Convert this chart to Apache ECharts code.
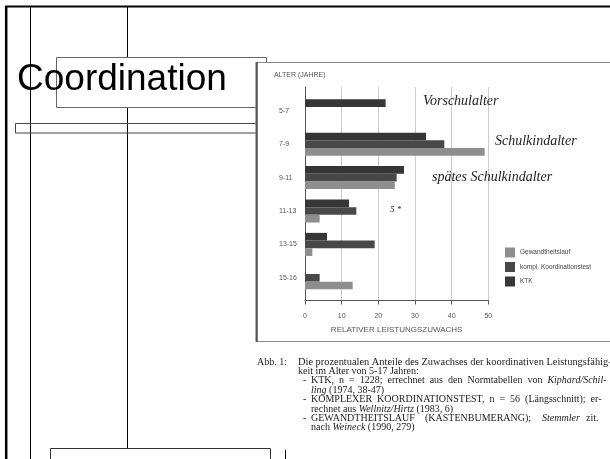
<!DOCTYPE html>
<html>
<head>
<meta charset="utf-8">
<script src="https://cdn.jsdelivr.net/npm/echarts@6/dist/echarts.min.js"></script>
<style>html,body{margin:0;padding:0;background:#fff;}#main{width:610px;height:459px;}</style>
</head>
<body>
<div id="main"></div>
<script>
// ---- data ----
var ageGroups = ['5-7', '7-9', '9-11', '11-13', '13-15', '15-16'];
var ktk = [22, 33, 27, 12, 6, null];
var komplKoord = [null, 38, 25, 14, 19, 4];
var gewandtheitslauf = [null, 49, 24.5, 4, 2, 13];
var xTicks = [0, 10, 20, 30, 40, 50];
var seriesNames = ['KTK', 'kompl. Koordinationstest', 'Gewandtheitslauf'];
var legendOrder = ['Gewandtheitslauf', 'kompl. Koordinationstest', 'KTK'];

var chart = echarts.init(document.getElementById('main'), null, {renderer: 'canvas'});
var serif = '"Liberation Serif", "DejaVu Serif", serif';
var sans = '"Liberation Sans", Arial, sans-serif';

var captionLines = [
  {x: 257, y: 362, t: 'Abb. 1:'},
  {x: 298, y: 362, t: 'Die prozentualen Anteile des Zuwachses der koordinativen Leistungsfähig-', s: 10.4},
  {x: 298, y: 371.4, t: 'keit im Alter von 5-17 Jahren:'},
  {x: 303, y: 380.8, t: '-'},
  {x: 311, y: 380.8, t: 'KTK,  n  =  1228;  errechnet  aus  den  Normtabellen  von  {i|Kiphard/Schil-}'},
  {x: 311, y: 390.2, t: '{i|ling} (1974, 38-47)'},
  {x: 303, y: 399.6, t: '-'},
  {x: 311, y: 399.6, t: 'KOMPLEXER  KOORDINATIONSTEST,  n  =  56  (Längsschnitt);  er-'},
  {x: 311, y: 409, t: 'rechnet aus {i|Wellnitz/Hirtz} (1983, 6)'},
  {x: 303, y: 418.4, t: '-'},
  {x: 311, y: 418.4, t: 'GEWANDTHEITSLAUF'},
  {x: 425, y: 418.4, t: '(KASTENBUMERANG);'},
  {x: 542, y: 418.4, t: '{i|Stemmler}'},
  {x: 586, y: 418.4, t: 'zit.'},
  {x: 311, y: 427.8, t: 'nach {i|Weineck} (1990, 279)'}
];

var graphics = [
  // slide frame lines
  {type: 'line', z: -10, shape: {x1: 5, y1: 6.5, x2: 610, y2: 6.5}, style: {stroke: '#000', lineWidth: 2}},
  {type: 'line', z: -10, shape: {x1: 6.2, y1: 6, x2: 6.2, y2: 459}, style: {stroke: '#000', lineWidth: 2.5}},
  {type: 'line', z: -10, shape: {x1: 30.5, y1: 7, x2: 30.5, y2: 459}, style: {stroke: '#000', lineWidth: 1}},
  {type: 'line', z: -10, shape: {x1: 127.5, y1: 7, x2: 127.5, y2: 448}, style: {stroke: '#000', lineWidth: 1}},
  {type: 'rect', z: -9, shape: {x: 56.5, y: 57.5, width: 210, height: 50}, style: {fill: '#fff', stroke: '#666', lineWidth: 1}},
  {type: 'rect', z: -9, shape: {x: 15.5, y: 123.5, width: 250, height: 9.5}, style: {fill: 'none', stroke: '#444', lineWidth: 1}},
  {type: 'rect', z: -9, shape: {x: 50.5, y: 448.5, width: 220, height: 30}, style: {fill: 'none', stroke: '#333', lineWidth: 1}},
  {type: 'line', z: -10, shape: {x1: 285.5, y1: 450, x2: 285.5, y2: 459}, style: {stroke: '#000', lineWidth: 1}},
  {type: 'text', z: -8, style: {x: 17, y: 79.5, text: 'Coordination', font: '37px ' + sans, fill: '#000', verticalAlign: 'middle'}},
  // chart panel
  {type: 'rect', z: -5, shape: {x: 256, y: 62.5, width: 360, height: 279}, style: {fill: '#fff', stroke: '#888', lineWidth: 1}},
  {type: 'line', z: -4, shape: {x1: 256.8, y1: 62, x2: 256.8, y2: 342}, style: {stroke: '#555', lineWidth: 2}},
  // handwritten notes
  {type: 'text', z: 20, style: {x: 423, y: 101, text: 'Vorschulalter', font: 'italic 14px ' + serif, fill: '#222', verticalAlign: 'middle'}},
  {type: 'text', z: 20, style: {x: 495, y: 141, text: 'Schulkindalter', font: 'italic 14px ' + serif, fill: '#222', verticalAlign: 'middle'}},
  {type: 'text', z: 20, style: {x: 432, y: 177, text: 'spätes Schulkindalter', font: 'italic 14px ' + serif, fill: '#222', verticalAlign: 'middle'}},
  {type: 'text', z: 20, style: {x: 390, y: 210, text: '5 *', font: 'italic 9px ' + serif, fill: '#222', verticalAlign: 'middle'}}
];
captionLines.forEach(function (c) {
  var fs = c.s || 10;
  graphics.push({type: 'text', z: 20, style: {x: c.x, y: c.y, text: c.t, font: fs + 'px ' + serif, fill: '#222', verticalAlign: 'middle',
    rich: {i: {fontStyle: 'italic', fontSize: fs, fontFamily: serif, fill: '#222'}}}});
});

chart.setOption({
  animation: false,
  backgroundColor: '#fff',
  graphic: {elements: graphics},
  legend: {
    data: legendOrder,
    orient: 'vertical',
    left: 505, top: 247.5,
    itemWidth: 10, itemHeight: 10, itemGap: 4.5,
    padding: 0,
    textStyle: {fontSize: 6.5, color: '#444', fontFamily: sans},
    icon: 'rect'
  },
  grid: [
    {left: 305, width: 183.3, top: 87, height: 213.5},
    {left: 305, width: 183.3, top: 94.1, height: 200.4}
  ],
  xAxis: [
    {gridIndex: 0, type: 'value', min: 0, max: 50, interval: 10,
     axisLine: {show: true, lineStyle: {color: '#555', width: 1}},
     axisTick: {show: true, length: 4, lineStyle: {color: '#555'}},
     axisLabel: {fontSize: 7, color: '#555', fontFamily: sans, margin: 12},
     splitLine: {show: true, lineStyle: {color: '#ccc', width: 1}},
     name: 'RELATIVER LEISTUNGSZUWACHS', nameLocation: 'middle', nameGap: 25,
     nameTextStyle: {fontSize: 8, color: '#555', fontFamily: sans}},
    {gridIndex: 1, type: 'value', min: 0, max: 50, show: false, splitLine: {show: false}}
  ],
  yAxis: [
    {gridIndex: 0, type: 'value', min: 0, max: 1,
     axisLine: {show: true, lineStyle: {color: '#555'}}, axisTick: {show: false}, axisLabel: {show: false}, splitLine: {show: false},
     name: 'ALTER (JAHRE)', nameLocation: 'end', nameGap: 8,
     nameTextStyle: {fontSize: 7, color: '#555', fontFamily: sans, align: 'left', padding: [0, 0, 0, -31]}},
    {gridIndex: 1, type: 'category', data: ageGroups, inverse: true,
     axisLine: {show: false}, axisTick: {show: false}, splitLine: {show: false},
     axisLabel: {fontSize: 7, color: '#555', fontFamily: sans, align: 'left', margin: 26}}
  ],
  series: [
    {name: seriesNames[0], type: 'bar', xAxisIndex: 1, yAxisIndex: 1, data: ktk, itemStyle: {color: '#363636'}, barGap: '0%', barCategoryGap: '31%'},
    {name: seriesNames[1], type: 'bar', xAxisIndex: 1, yAxisIndex: 1, data: komplKoord, itemStyle: {color: '#484848'}, barGap: '0%', barCategoryGap: '31%'},
    {name: seriesNames[2], type: 'bar', xAxisIndex: 1, yAxisIndex: 1, data: gewandtheitslauf, itemStyle: {color: '#8e8e8e'}, barGap: '0%', barCategoryGap: '31%'}
  ]
});
</script>
</body>
</html>
